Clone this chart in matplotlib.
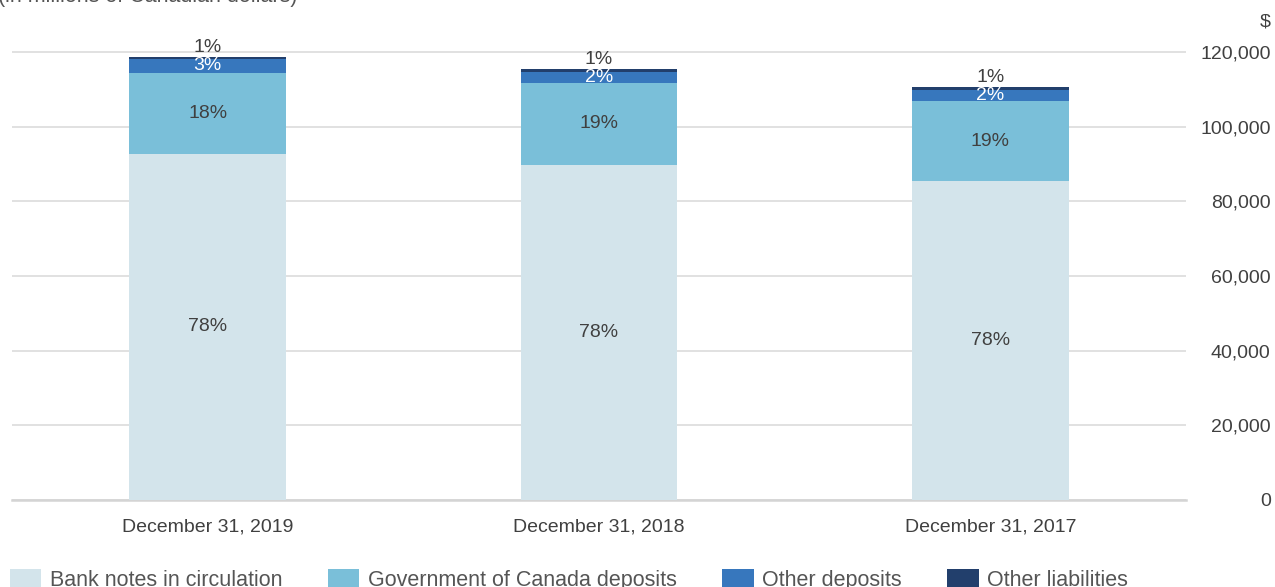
import numpy as np
import matplotlib
matplotlib.use('Agg')
import matplotlib.pyplot as plt
from matplotlib.patches import Patch

plt.rcParams['font.family'] = ['Liberation Sans', 'DejaVu Sans']

# values in millions of Canadian dollars
dates = ['December 31, 2019', 'December 31, 2018', 'December 31, 2017']
bank_notes = [92700, 89700, 85400]
gov_deposits = [21800, 22100, 21500]
other_deposits = [3600, 2900, 2900]
other_liab = [650, 750, 750]

pct_bank = ['78%', '78%', '78%']
pct_gov = ['18%', '19%', '19%']
pct_other_dep = ['3%', '2%', '2%']
pct_other_liab = ['1%', '1%', '1%']

series_names = ['Bank notes in circulation', 'Government of Canada deposits',
                'Other deposits', 'Other liabilities']
colors = ['#d3e4eb', '#7abfd9', '#3777bd', '#223f6c']
txt = '#404040'

fig = plt.figure(figsize=(12.75, 5.87), dpi=100)
ax = fig.add_axes([12/1275, 1 - 500/587, (1186 - 12)/1275, (500 - 33.3)/587])

x = np.arange(len(dates))
w = 0.40
bottom = np.zeros(len(dates))
for vals, c in zip([bank_notes, gov_deposits, other_deposits, other_liab], colors):
    ax.bar(x, vals, w, bottom=bottom, color=c, zorder=3, linewidth=0)
    bottom += np.array(vals)

b1 = np.array(bank_notes)
b2 = b1 + np.array(gov_deposits)
b3 = b2 + np.array(other_deposits)
tot = b3 + np.array(other_liab)
for i in range(len(dates)):
    ax.text(x[i], b1[i] / 2, pct_bank[i], ha='center', va='center', fontsize=14, color=txt, zorder=4)
    ax.text(x[i], (b1[i] + b2[i]) / 2, pct_gov[i], ha='center', va='center', fontsize=14, color=txt, zorder=4)
    ax.text(x[i], (b2[i] + b3[i]) / 2, pct_other_dep[i], ha='center', va='center', fontsize=14, color='white', zorder=4)
    ax.text(x[i], tot[i] + 2500, pct_other_liab[i], ha='center', va='center', fontsize=14, color=txt, zorder=4)

ax.set_xlim(-0.5, 2.5)
ax.set_ylim(0, 125000)
ax.set_yticks(np.arange(0, 120001, 20000))
ax.set_yticklabels(['{:,}'.format(v) for v in range(0, 120001, 20000)])
ax.yaxis.tick_right()
# labels are right-aligned near the right edge of the figure (85 px from the axes)
ax.tick_params(axis='y', length=0, pad=61, labelsize=14, labelcolor=txt)
for lab in ax.get_yticklabels():
    lab.set_horizontalalignment('right')
ax.set_xticks(x)
ax.set_xticklabels(dates)
ax.tick_params(axis='x', length=0, pad=13, labelsize=14, labelcolor=txt)

ax.grid(axis='y', color='#d9d9d9', linewidth=1.1, zorder=0)
for s in ['top', 'right', 'left']:
    ax.spines[s].set_visible(False)
ax.spines['bottom'].set_color('#d4d4d4')
ax.spines['bottom'].set_linewidth(1.8)

fig.text(-2/1275, 1 - 2/587, '(in millions of Canadian dollars)', ha='left', va='baseline',
         fontsize=15.5, color='#555555')
fig.text(1271/1275, 1 - 22/587, '$', ha='right', va='center', fontsize=14, color=txt)

handles = [Patch(facecolor=c, edgecolor='none') for c in colors]
fig.legend(handles, series_names, loc='lower left', bbox_to_anchor=(10/1275, -4/587),
           ncol=4, frameon=False, fontsize=15.5, handlelength=1.45, handleheight=1.0,
           handletextpad=0.4, columnspacing=2.12, borderpad=0, borderaxespad=0,
           labelcolor='#555555')

plt.savefig('out.png', dpi=100)
